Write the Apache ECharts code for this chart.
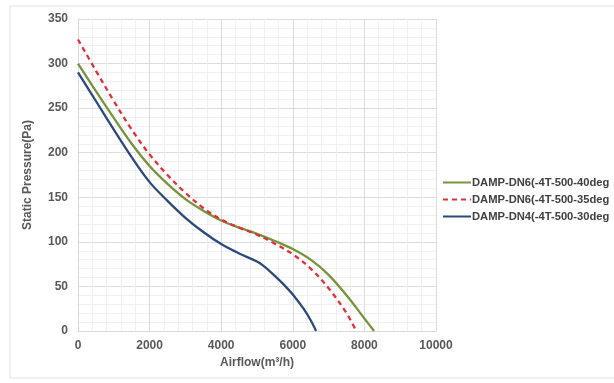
<!DOCTYPE html>
<html><head><meta charset="utf-8">
<script src="https://cdn.jsdelivr.net/npm/echarts@6/dist/echarts.min.js"></script>
<style>html,body{margin:0;padding:0;background:#fff}#c{width:614px;height:383px}</style>
</head><body><div id="c"></div>
<script>
const seriesNames = ['DAMP-DN6(-4T-500-40deg', 'DAMP-DN6(-4T-500-35deg', 'DAMP-DN4(-4T-500-30deg'];
const green40 = [[0,300],[500,269],[1000,239],[1500,210],[2000,185],[2500,165],[3000,148],[3500,135],[4000,124],[4500,116],[5000,109],[5500,101],[6000,92],[6500,80],[7000,63],[7500,40],[8000,14],[8270,0]];
const red35 = [[0,327],[500,292],[1000,258],[1500,226],[2000,198],[2500,175],[3000,155],[3500,138],[4000,125],[4500,116],[5000,108],[5500,98],[6000,86],[6500,70],[7000,48],[7500,20],[7770,0]];
const blue30 = [[0,290],[500,258],[1000,226],[1500,195],[2000,167],[2500,146],[3000,127],[3500,111],[4000,97.5],[4500,87],[5000,78],[5200,72.5],[5400,65.5],[5700,54],[6000,41],[6300,25],[6500,12],[6650,0]];
const chart = echarts.init(document.getElementById('c'));
const lbl = {color:'#595959', fontWeight:'bold', fontSize:12, fontFamily:'Liberation Sans, Arial, sans-serif'};
const plain = v => String(v);
chart.setOption({
  animation:false,
  graphic:[{type:'rect', shape:{x:10,y:6,width:610,height:372}, style:{fill:'none', stroke:'#e3e3e3', lineWidth:1}, silent:true}],
  grid:{left:78, right:178, top:19, bottom:52},
  legend:{orient:'vertical', left:437, top:172, itemWidth:28, itemHeight:10, itemGap:6,
    itemStyle:{opacity:0},
    textStyle:{color:'#404040', fontWeight:'bold', fontSize:11.2, fontFamily:'Liberation Sans, Arial, sans-serif', padding:[0,0,0,-4]},
    data:seriesNames},
  xAxis:{type:'value', min:0, max:10000, interval:2000,
    name:'Airflow(m³/h)', nameLocation:'middle', nameGap:25, nameTextStyle:lbl,
    axisLabel:Object.assign({margin:9, formatter:plain}, lbl),
    axisLine:{lineStyle:{color:'#d9d9d9'}}, axisTick:{show:false},
    splitLine:{lineStyle:{color:'#dcdcdc'}},
    minorTick:{show:false, splitNumber:5}, minorSplitLine:{show:true, lineStyle:{color:'#f0f0f0'}}},
  yAxis:{type:'value', min:0, max:350, interval:50,
    name:'Static Pressure(Pa)', nameLocation:'middle', nameGap:44, nameTextStyle:lbl,
    axisLabel:Object.assign({margin:10, formatter:plain}, lbl),
    axisLine:{show:true, lineStyle:{color:'#d9d9d9'}}, axisTick:{show:false},
    splitLine:{lineStyle:{color:'#dcdcdc'}},
    minorTick:{show:false, splitNumber:5}, minorSplitLine:{show:true, lineStyle:{color:'#f0f0f0'}}},
  series:[
    {name:seriesNames[0], type:'line', data:green40, smooth:0.35, symbol:'none', lineStyle:{color:'#77933C', width:2.3}, itemStyle:{color:'#77933C'}},
    {name:seriesNames[1], type:'line', data:red35, smooth:0.35, symbol:'none', lineStyle:{color:'#E0313B', width:2.3, type:[5,4]}, itemStyle:{color:'#E0313B'}},
    {name:seriesNames[2], type:'line', data:blue30, smooth:0.35, symbol:'none', lineStyle:{color:'#2A4A7C', width:2.3}, itemStyle:{color:'#2A4A7C'}}
  ]
});
</script></body></html>
